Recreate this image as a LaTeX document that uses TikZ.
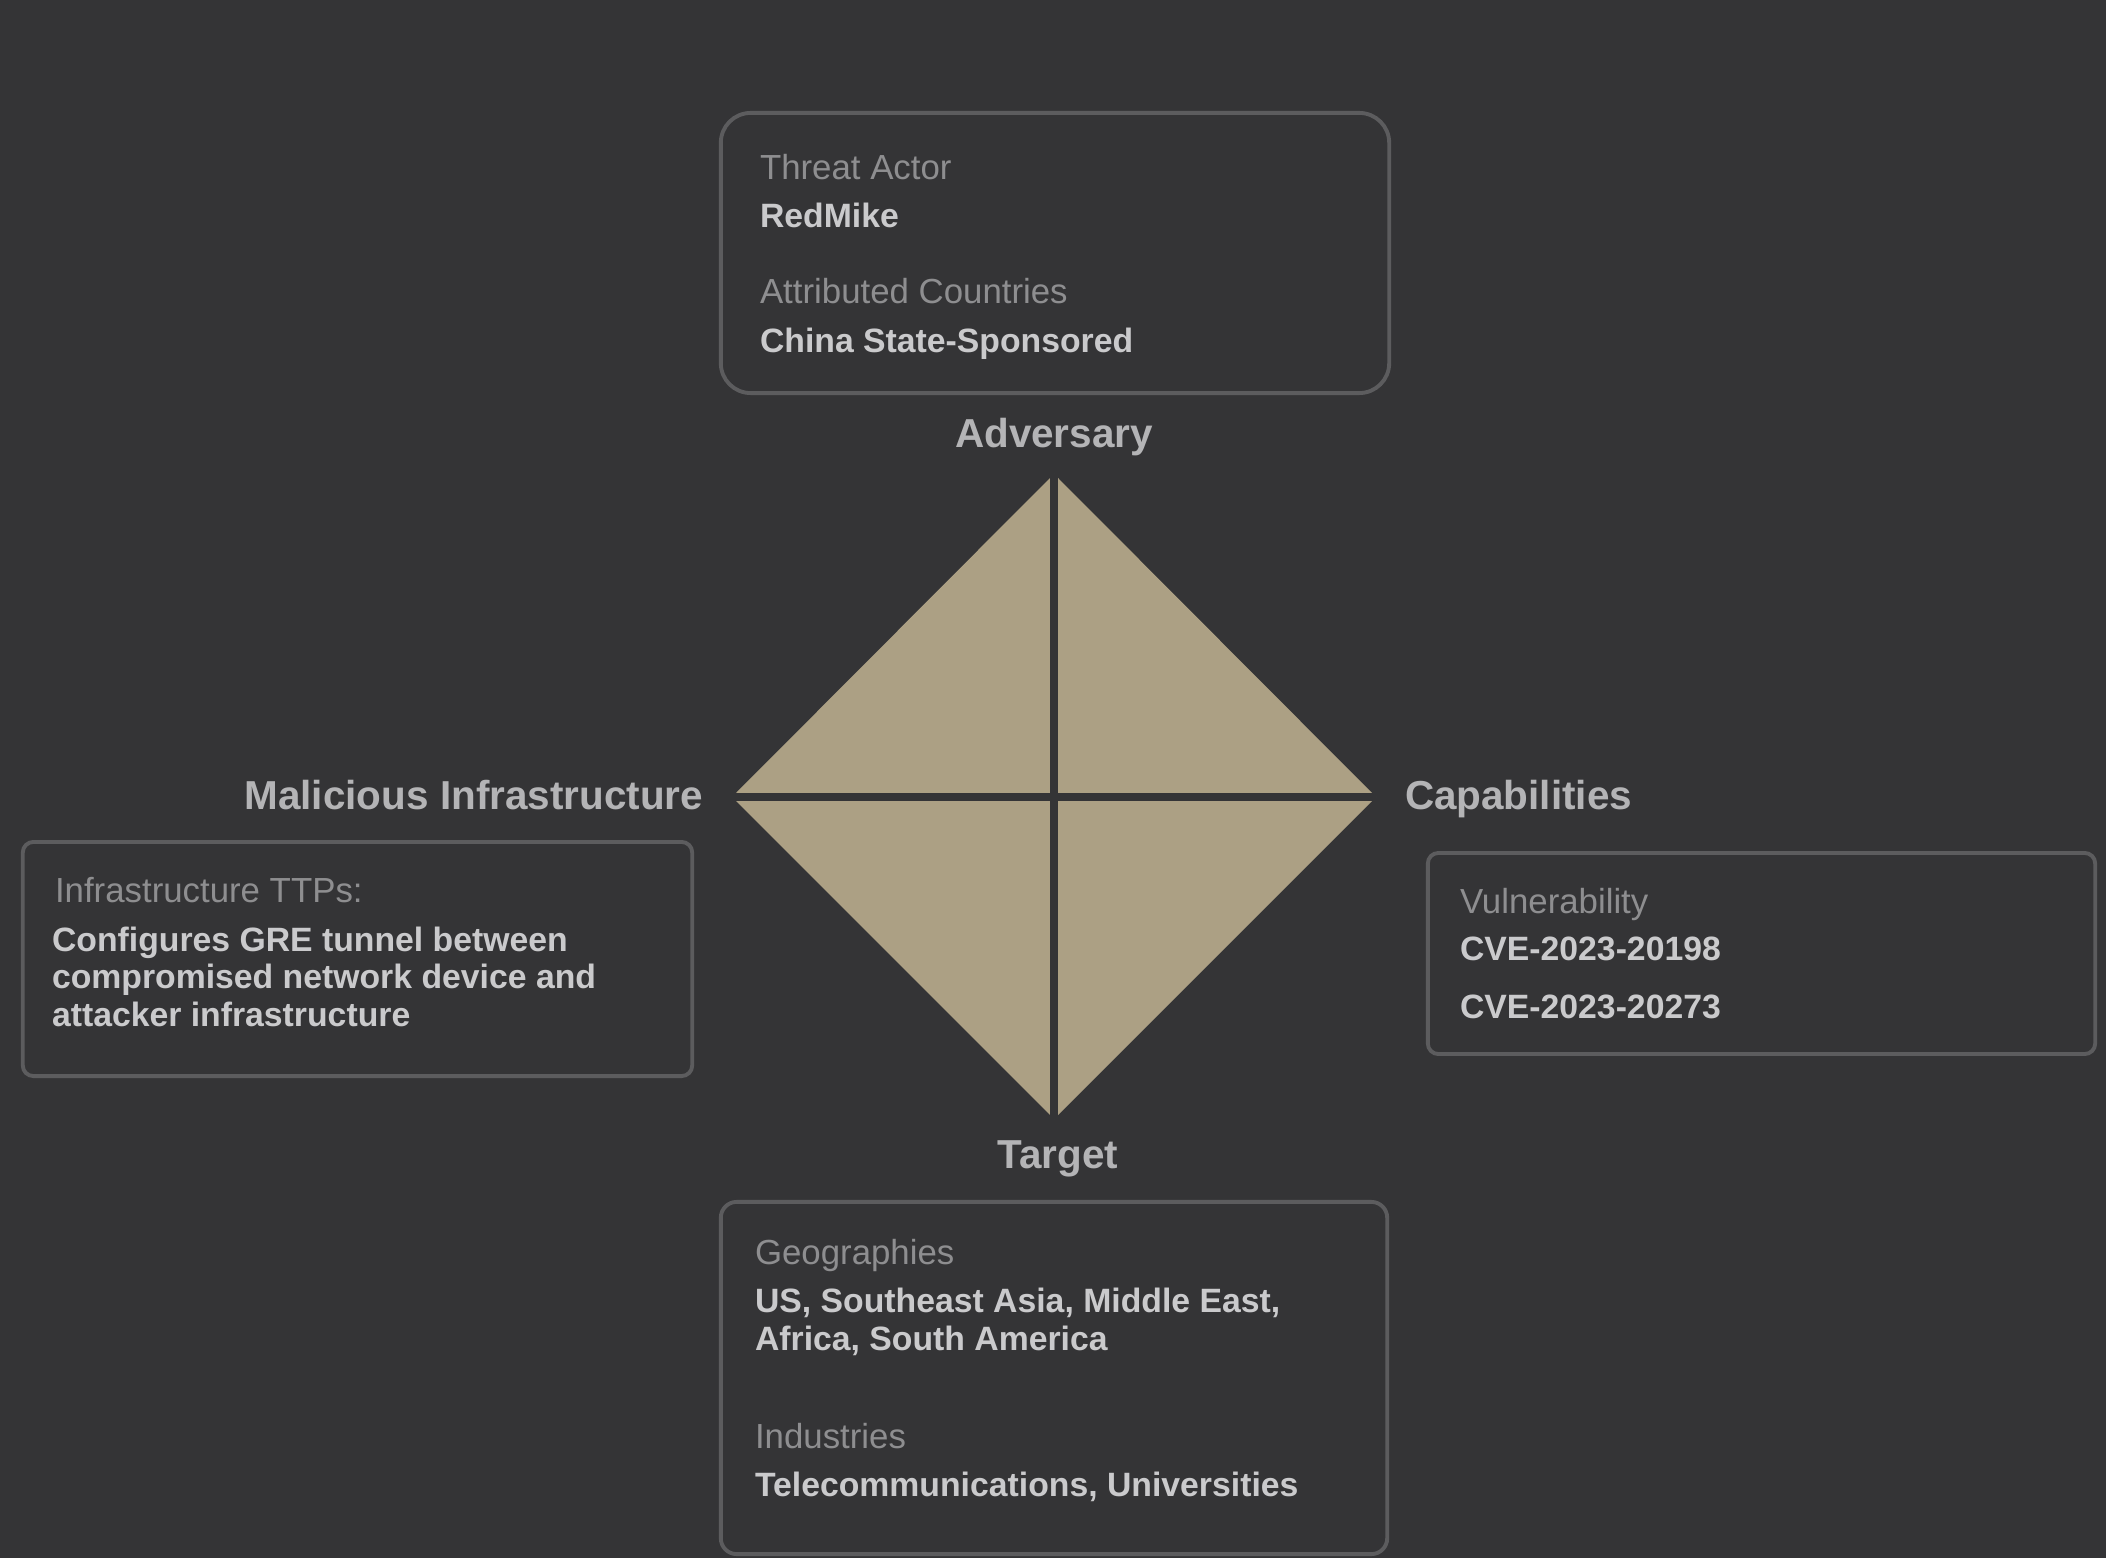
\documentclass[tikz,border=0pt]{standalone}
\usepackage{fontspec}
\setmainfont{Liberation Sans}
\usetikzlibrary{positioning, calc}
\definecolor{bgdark}{HTML}{343436}
\definecolor{diamondfill}{HTML}{ACA084}
\definecolor{boxline}{HTML}{5C5C5E}
\definecolor{headtext}{HTML}{B4B4B6}
\definecolor{labeltext}{HTML}{8E8E90}
\definecolor{valuetext}{HTML}{CACACC}

\begin{document}
\begin{tikzpicture}[
			x=0.01cm, y=-0.01cm,
			every node/.style={
					inner sep=0pt,
					outer sep=0pt
				},
			heading/.style={text=headtext, font=\fontsize{11.5}{14}\selectfont\bfseries},
			fieldname/.style={text=labeltext, font=\fontsize{9.9}{12}\selectfont, anchor=base west},
			fieldvalue/.style={text=valuetext, font=\fontsize{9.6}{10.7}\selectfont\bfseries, anchor=base west},
			infobox/.style={draw=boxline, line width=1.1pt, fill=bgdark}
		]
		% canvas
		\fill[bgdark] (0,0) rectangle (2106,1558);
		\useasboundingbox (0,0) rectangle (2106,1558);

		% diamond corners
		\coordinate (dtop) at (1054,474);
		\coordinate (dright) at (1376,797);
		\coordinate (dbot) at (1054,1119);
		\coordinate (dleft) at (732,797);

		\fill[diamondfill] (dtop) -- (dright) -- (dbot) -- (dleft) -- cycle;
		\draw[bgdark, line width=2.2pt] (dtop) -- (dbot) (dleft) -- (dright);

		\node[heading, anchor=base] (adversary) at (1054,448) {Adversary};
		\node[heading, anchor=base] (target) at (1058,1168) {Target};
		\node[heading, anchor=base east] (infra) at (703,809) {Malicious Infrastructure};
		\node[heading, anchor=base west] (capab) at (1405,809) {Capabilities};

		% adversary box
		\node[infobox, rounded corners=8.5pt, minimum width=6.68cm, minimum height=2.8cm] (advbox) at (1055,253) {};
		\node[fieldname] (actorkey) at (760,180) {Threat Actor};
		\node[fieldvalue] (actorval) at (760,228) {RedMike};
		\node[fieldname] (countrykey) at (760,304) {Attributed Countries};
		\node[fieldvalue] (countryval) at (760,353) {China State-Sponsored};

		% infrastructure box
		\node[infobox, rounded corners=3pt, minimum width=6.69cm, minimum height=2.34cm] (infrabox) at (357.5,959) {};
		\node[fieldname] (ttpkey) at (55,902) {Infrastructure TTPs:};
		\node[fieldvalue] (ttpval1) at (52,951) {Configures GRE tunnel between};
		\node[fieldvalue] (ttpval2) at (52,988) {compromised network device and};
		\node[fieldvalue] (ttpval3) at (52,1026) {attacker infrastructure};

		% capabilities box
		\node[infobox, rounded corners=3pt, minimum width=6.67cm, minimum height=2.01cm] (capbox) at (1761.5,953.5) {};
		\node[fieldname] (vulnkey) at (1460,913) {Vulnerability};
		\node[fieldvalue] (cve1) at (1460,960) {CVE-2023-20198};
		\node[fieldvalue] (cve2) at (1460,1018) {CVE-2023-20273};

		% target box
		\node[infobox, rounded corners=4.5pt, minimum width=6.66cm, minimum height=3.52cm] (tgtbox) at (1054,1378) {};
		\node[fieldname] (geokey) at (755,1264) {Geographies};
		\node[fieldvalue] (geoval1) at (755,1312) {US, Southeast Asia, Middle East,};
		\node[fieldvalue] (geoval2) at (755,1350) {Africa, South America};
		\node[fieldname] (indkey) at (755,1448) {Industries};
		\node[fieldvalue] (indval) at (755,1496) {Telecommunications, Universities};
	\end{tikzpicture}
\end{document}
